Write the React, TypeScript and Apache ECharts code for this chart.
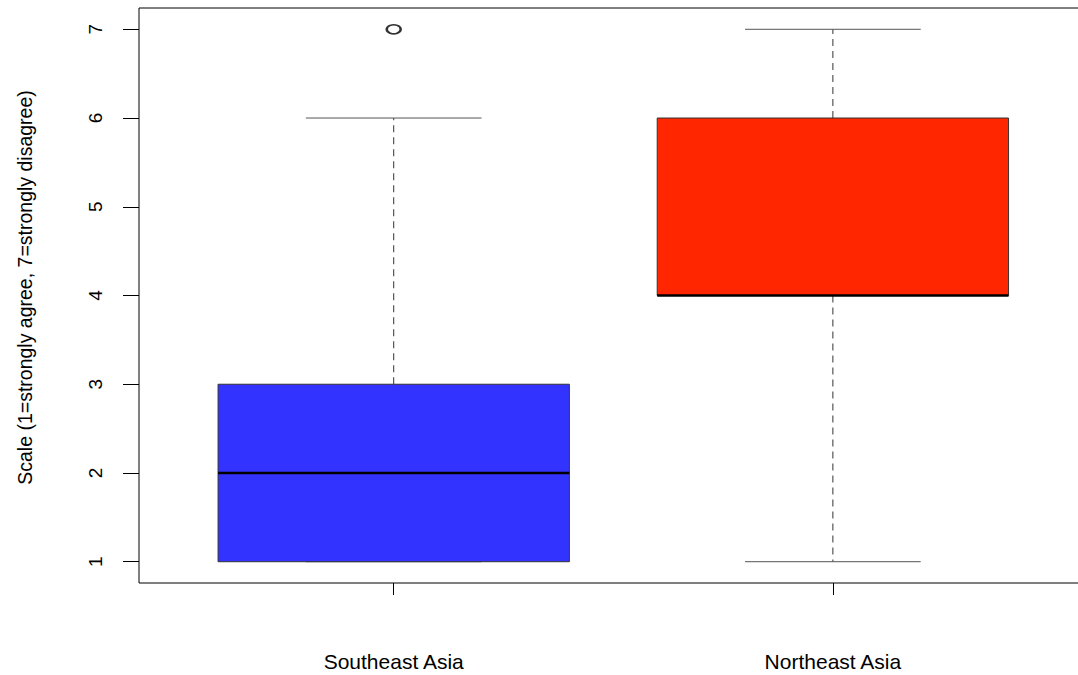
import React, { useEffect, useRef } from "react";
import * as echarts from "echarts";

const categories = ["Southeast Asia", "Northeast Asia"];
// [position, min whisker, Q1, median, Q3, max whisker]
const boxStats = [
  [1, 1, 1, 2, 3, 6],
  [2, 1, 4, 4, 6, 7],
];
const boxColors = ["#3333ff", "#ff2600"];
const outliers = [[1, 7]];
const yTicks = [1, 2, 3, 4, 5, 6, 7];
const yTitle = "Scale (1=strongly agree, 7=strongly disagree)";

export default function App() {
  const ref = useRef<HTMLDivElement>(null);
  useEffect(() => {
    const chart = echarts.init(ref.current!, null, { renderer: "svg" });
    const font = "'Liberation Sans', Arial, sans-serif";
    chart.setOption({
      animation: false,
      backgroundColor: "#ffffff",
      grid: {
        left: 139,
        top: 8,
        width: 948.6,
        height: 575,
        outerBoundsMode: "none",
        containLabel: false,
        show: true,
        borderColor: "#000",
        borderWidth: 1,
        backgroundColor: "transparent",
      },
      xAxis: {
        type: "value",
        min: 0.42,
        max: 2.58,
        axisLine: { show: false },
        splitLine: { show: false },
        axisTick: {
          show: true,
          length: 12,
          customValues: [1, 2],
          lineStyle: { color: "#000", width: 1 },
        },
        axisLabel: {
          customValues: [1, 2],
          margin: 68,
          fontSize: 21,
          fontFamily: font,
          color: "#000",
          formatter: (v: number) => categories[Math.round(v) - 1] ?? "",
        },
      },
      yAxis: {
        type: "value",
        min: 0.76,
        max: 7.24,
        name: yTitle,
        nameLocation: "middle",
        nameGap: 104,
        nameRotate: 90,
        nameTextStyle: {
          fontSize: 19.5,
          fontFamily: font,
          color: "#000",
          padding: [0, 0, 0, 16],
        },
        axisLine: { show: false },
        splitLine: { show: false },
        axisTick: {
          show: true,
          length: 16,
          customValues: yTicks,
          lineStyle: { color: "#000", width: 1 },
        },
        axisLabel: {
          customValues: yTicks,
          rotate: 90,
          margin: 34,
          fontSize: 19,
          fontFamily: font,
          color: "#000",
        },
      },
      series: [
        {
          type: "custom",
          data: boxStats,
          encode: { x: 0, y: [1, 2, 3, 4, 5] },
          renderItem: (params: any, api: any) => {
            const x = api.value(0);
            const mn = api.value(1);
            const q1 = api.value(2);
            const md = api.value(3);
            const q3 = api.value(4);
            const mx = api.value(5);
            const hw = 0.4;
            const cw = 0.2;
            const bl = api.coord([x - hw, q3]);
            const br = api.coord([x + hw, q1]);
            const c = (xx: number, yy: number) => api.coord([xx, yy]);
            const dash = { stroke: "#333", lineWidth: 1, lineDash: [7, 5] };
            const cap = { stroke: "#555", lineWidth: 1 };
            return {
              type: "group",
              children: [
                {
                  type: "line",
                  shape: { x1: c(x, q3)[0], y1: c(x, q3)[1], x2: c(x, mx)[0], y2: c(x, mx)[1] },
                  style: dash,
                },
                {
                  type: "line",
                  shape: { x1: c(x, q1)[0], y1: c(x, q1)[1], x2: c(x, mn)[0], y2: c(x, mn)[1] },
                  style: dash,
                },
                {
                  type: "line",
                  shape: { x1: c(x - cw, mx)[0], y1: c(x, mx)[1], x2: c(x + cw, mx)[0], y2: c(x, mx)[1] },
                  style: cap,
                },
                {
                  type: "line",
                  shape: { x1: c(x - cw, mn)[0], y1: c(x, mn)[1], x2: c(x + cw, mn)[0], y2: c(x, mn)[1] },
                  style: cap,
                },
                {
                  type: "rect",
                  shape: { x: bl[0], y: bl[1], width: br[0] - bl[0], height: br[1] - bl[1] },
                  style: { fill: boxColors[params.dataIndex], stroke: "#333", lineWidth: 1 },
                },
                {
                  type: "line",
                  shape: { x1: c(x - hw, md)[0], y1: c(x, md)[1], x2: c(x + hw, md)[0], y2: c(x, md)[1] },
                  style: { stroke: "#000", lineWidth: 2.5 },
                },
              ],
            };
          },
        },
        {
          type: "scatter",
          data: outliers,
          symbol: "emptyCircle",
          symbolSize: [14, 9],
          itemStyle: { color: "#000", borderColor: "#000", borderWidth: 1.5 },
        },
      ],
    });
    return () => chart.dispose();
  }, []);
  return (
    <div
      ref={ref}
      style={{ position: "absolute", left: 0, top: 0, width: 1078, height: 675 }}
    />
  );
}
